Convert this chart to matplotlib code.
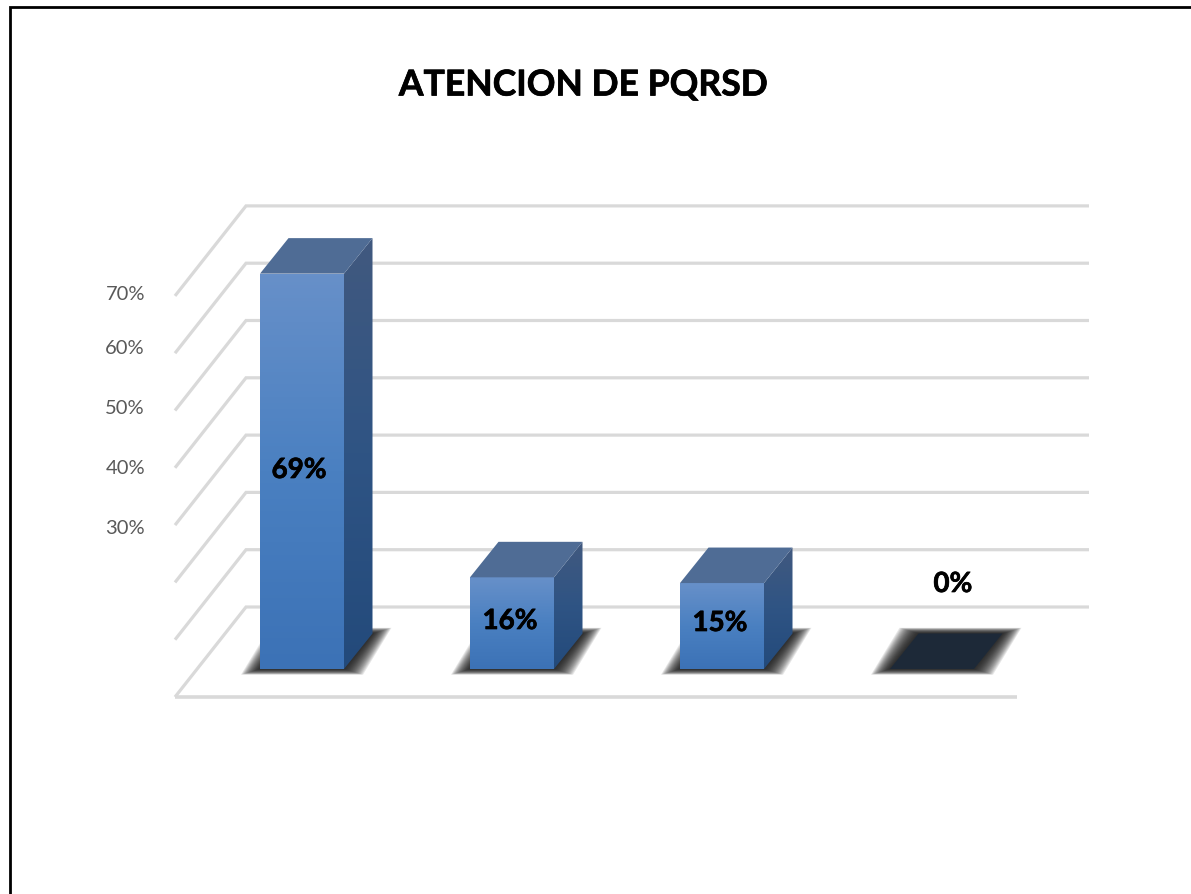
import numpy as np
import matplotlib
matplotlib.use('Agg')
import matplotlib.pyplot as plt
import matplotlib.patheffects as pe
from matplotlib.patches import Polygon
from matplotlib.colors import LinearSegmentedColormap

categories = [0, 1, 2, 3]
values = [69, 16, 15, 0]
value_labels = ['69%', '16%', '15%', '0%']
grid_levels = [0, 10, 20, 30, 40, 50, 60, 70]
tick_labels = ['70%', '60%', '50%', '40%', '30%']
title = 'ATENCION DE PQRSD'

plt.rcParams['font.family'] = ['Lato', 'DejaVu Sans']

W, H = 1191, 894
# one unit of x = one category = 210 px, one unit of y = 1% = 5.73 px
sx, sy = 210.0, 5.73
x0, y0 = 302.0, 669.0


def X(px):
    return (px - x0) / sx


def Y(py):
    return (y0 - py) / sy


fig = plt.figure(figsize=(W / 100, H / 100), dpi=100)
ax = fig.add_axes([0, 0, 1, 1])
ax.axis('off')

bar_w = 84 / sx
dx, dy = 28.5 / sx, 35.5 / sy      # depth of a bar
wall_dx, wall_dy = 71 / sx, 90 / sy  # depth of the floor
back_zero = Y(607)
left_back = X(246)
right_back = X(1089)

grid_col = '#d9d9d9'
for lev in grid_levels:
    yb = back_zero + lev
    ax.plot([left_back - wall_dx, left_back, right_back], [yb - wall_dy, yb, yb],
            color=grid_col, lw=2.3, solid_joinstyle='miter', solid_capstyle='butt', zorder=1)
ax.plot([left_back - wall_dx, X(1017)], [back_zero - wall_dy] * 2,
        color=grid_col, lw=2.6, solid_capstyle='butt', zorder=1)

cm_front = LinearSegmentedColormap.from_list('front', ['#6790c9', '#4a80c1', '#3c72b6'])
cm_side = LinearSegmentedColormap.from_list('side', ['#41597f', '#2f5484', '#234a7b'])


def grad(poly, cmap, extent):
    im = ax.imshow(np.linspace(0, 1, 128).reshape(-1, 1), cmap=cmap, extent=extent,
                   aspect='auto', origin='upper', zorder=4)
    p = Polygon(poly, closed=True, transform=ax.transData, fc='none', ec='none')
    ax.add_patch(p)
    im.set_clip_path(p)


for c, v in zip(categories, values):
    l = c - bar_w / 2
    r = c + bar_w / 2
    # soft shadow on the floor, wider than tall
    for e in np.linspace(19, 1, 18):
        ex, ey = e / sx, e * 0.3 / sy
        ax.add_patch(Polygon([(l - ex, -ey), (r + ex, -ey), (r + dx + ex, dy + ey), (l + dx - ex, dy + ey)],
                             closed=True, fc='#111111', ec='none', alpha=0.10, zorder=2))
    base = [(l, 0), (r, 0), (r + dx, dy), (l + dx, dy)]
    if v == 0:
        ax.add_patch(Polygon(base, closed=True, fc='#1d2938', ec='none', zorder=5))
        continue
    grad([(l, 0), (r, 0), (r, v), (l, v)], cm_front, [l, r, 0, v])
    grad([(r, 0), (r + dx, dy), (r + dx, v + dy), (r, v)], cm_side, [r, r + dx, 0, v + dy])
    ax.add_patch(Polygon([(l, v), (r, v), (r + dx, v + dy), (l + dx, v + dy)], closed=True,
                         fc='#4f6c95', ec='none', zorder=5))

# data labels sit inside the bars, the empty one floats above
label_px = [(299, 470), (510, 621), (720, 623), (953, 584)]
bold = [pe.withStroke(linewidth=0.5, foreground='black')]
for (px, py), s in zip(label_px, value_labels):
    ax.text(X(px), Y(py), s, fontsize=20, fontweight='bold', color='black',
            ha='center', va='center', zorder=6, path_effects=bold)

tick_py = [294, 348, 409, 469, 529]
for py, s in zip(tick_py, tick_labels):
    ax.text(X(145), Y(py), s, fontsize=14.5, color='#595959', ha='right', va='center', zorder=6)

ax.text(X(583), Y(85), title, fontsize=25.6, fontweight='bold', color='black',
        ha='center', va='center', zorder=6, path_effects=bold)

# outer frame, only top and left show
ax.plot([X(10), X(10), X(W)], [Y(H), Y(7), Y(7)], color='black', lw=2,
        solid_joinstyle='miter', zorder=7)

ax.set_xlim(X(0), X(W))
ax.set_ylim(Y(H), Y(0))
fig.savefig('out.png', dpi=100, facecolor='white')
